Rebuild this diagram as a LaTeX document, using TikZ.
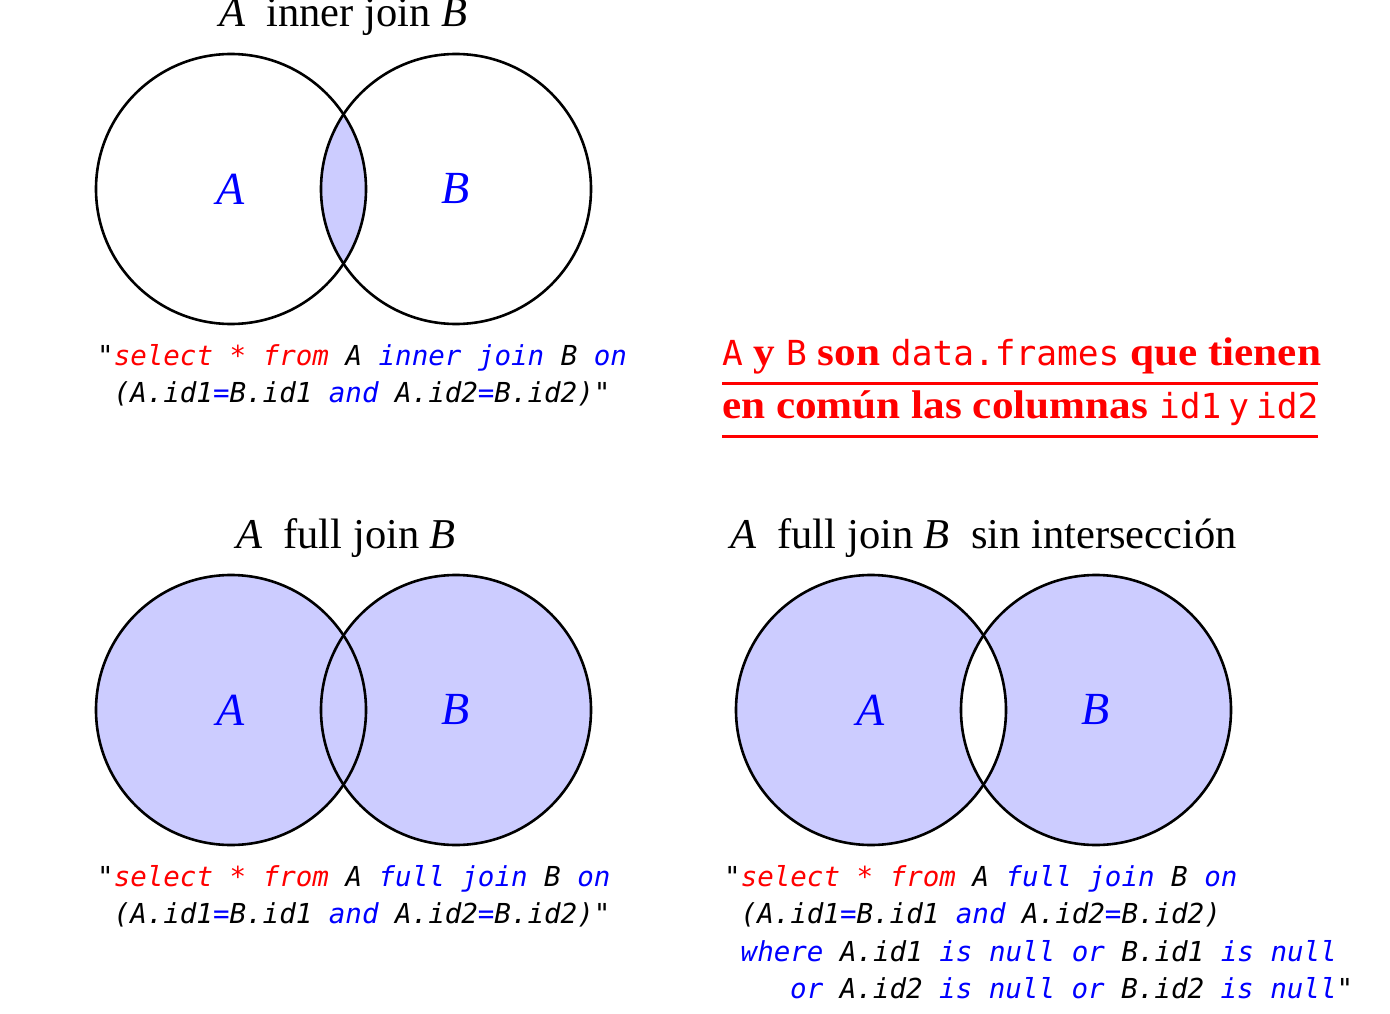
\documentclass[tikz,border=0pt]{standalone}
\usepackage{fontspec}
\setmainfont{Liberation Serif}
\newfontfamily\codefont{DejaVu Sans Mono}
\newfontfamily\noteserif{Liberation Serif}[FakeStretch=1.08]
\definecolor{setfill}{RGB}{204,204,255}
\definecolor{kwred}{RGB}{255,0,0}
\definecolor{kwblue}{RGB}{0,0,255}
\newcommand\kwr[1]{\textcolor{kwred}{#1}}
\newcommand\kwb[1]{\textcolor{kwblue}{#1}}
\newcommand\mytt[1]{{\fontsize{34.5}{38}\selectfont\codefont\mdseries #1}}
\tikzset{
  setc/.style={circle, draw=black, line width=2.6pt, minimum size=270pt, inner sep=0pt},
  setlabel/.style={text=kwblue, font=\fontsize{46}{50}\selectfont\itshape, inner sep=0pt},
  heading/.style={anchor=base west, inner sep=0pt, font=\fontsize{42.5}{46}\selectfont},
  codeline/.style={anchor=base west, inner sep=0pt, font=\fontsize{27.5}{30}\selectfont\codefont\itshape},
  notetext/.style={anchor=base west, inner sep=0pt, text=kwred, font=\fontsize{40}{44}\selectfont\noteserif\bfseries},
  noteline/.style={draw=kwred, line width=3pt}
}
\begin{document}
\begin{tikzpicture}[x=1pt,y=-1pt]
\useasboundingbox (0,0) rectangle (1390,1014);
% ---------- top: inner join ----------
\begin{scope}
  \clip (231,189) circle (135);
  \fill[setfill] (456,189) circle (135);
\end{scope}
\node[setc] (A1) at (231,189) {};
\node[setc] (B1) at (456,189) {};
\node[setlabel] (la1) at (A1.center) {A};
\node[setlabel] (lb1) at (B1.center) {B};
\node[heading] (h1) at (219,27) {\textit{A}\hspace{0.5em}inner join \textit{B}};
\node[codeline] (c1a) at (97,365) {"\kwr{select * from} A \kwb{inner join} B \kwb{on}};
\node[codeline] (c1b) at (113.5,402) {(A.id1\kwb{=}B.id1 \kwb{and} A.id2\kwb{=}B.id2)"};
% ---------- note ----------
\node[notetext] (n1) at (722,365) {\mytt{A} y \mytt{B} son \mytt{data.frames} que tienen};
\node[notetext] (n2) at (722,418) {en común las columnas \mytt{id1}\hspace{7pt}\mytt{y}\hspace{7pt}\mytt{id2}};
\draw[noteline] (722,383) -- (1318,383);
\draw[noteline] (722,436) -- (1318,436);
% ---------- bottom left: full join ----------
\fill[setfill] (231,710) circle (135);
\fill[setfill] (456,710) circle (135);
\node[setc] (A2) at (231,710) {};
\node[setc] (B2) at (456,710) {};
\node[setlabel] (la2) at (A2.center) {A};
\node[setlabel] (lb2) at (B2.center) {B};
\node[heading] (h2) at (236,548) {\textit{A}\hspace{0.5em}full join \textit{B}};
\node[codeline] (c2a) at (97,886) {"\kwr{select * from} A \kwb{full join} B \kwb{on}};
\node[codeline] (c2b) at (113.5,923) {(A.id1\kwb{=}B.id1 \kwb{and} A.id2\kwb{=}B.id2)"};
% ---------- bottom right: full join without intersection ----------
\fill[setfill, even odd rule] (871,710) circle (135) (1096,710) circle (135);
\node[setc] (A3) at (871,710) {};
\node[setc] (B3) at (1096,710) {};
\node[setlabel] (la3) at (A3.center) {A};
\node[setlabel] (lb3) at (B3.center) {B};
\node[heading] (h3) at (730,548) {\textit{A}\hspace{0.5em}full join \textit{B}\hspace{0.5em}sin intersección};
\node[codeline] (c3a) at (724,886) {"\kwr{select * from} A \kwb{full join} B \kwb{on}};
\node[codeline] (c3b) at (740.5,923) {(A.id1\kwb{=}B.id1 \kwb{and} A.id2\kwb{=}B.id2)};
\node[codeline] (c3c) at (740.5,961) {\kwb{where} A.id1 \kwb{is null or} B.id1 \kwb{is null}};
\node[codeline] (c3d) at (790,998) {\kwb{or} A.id2 \kwb{is null or} B.id2 \kwb{is null}"};
\end{tikzpicture}
\end{document}
